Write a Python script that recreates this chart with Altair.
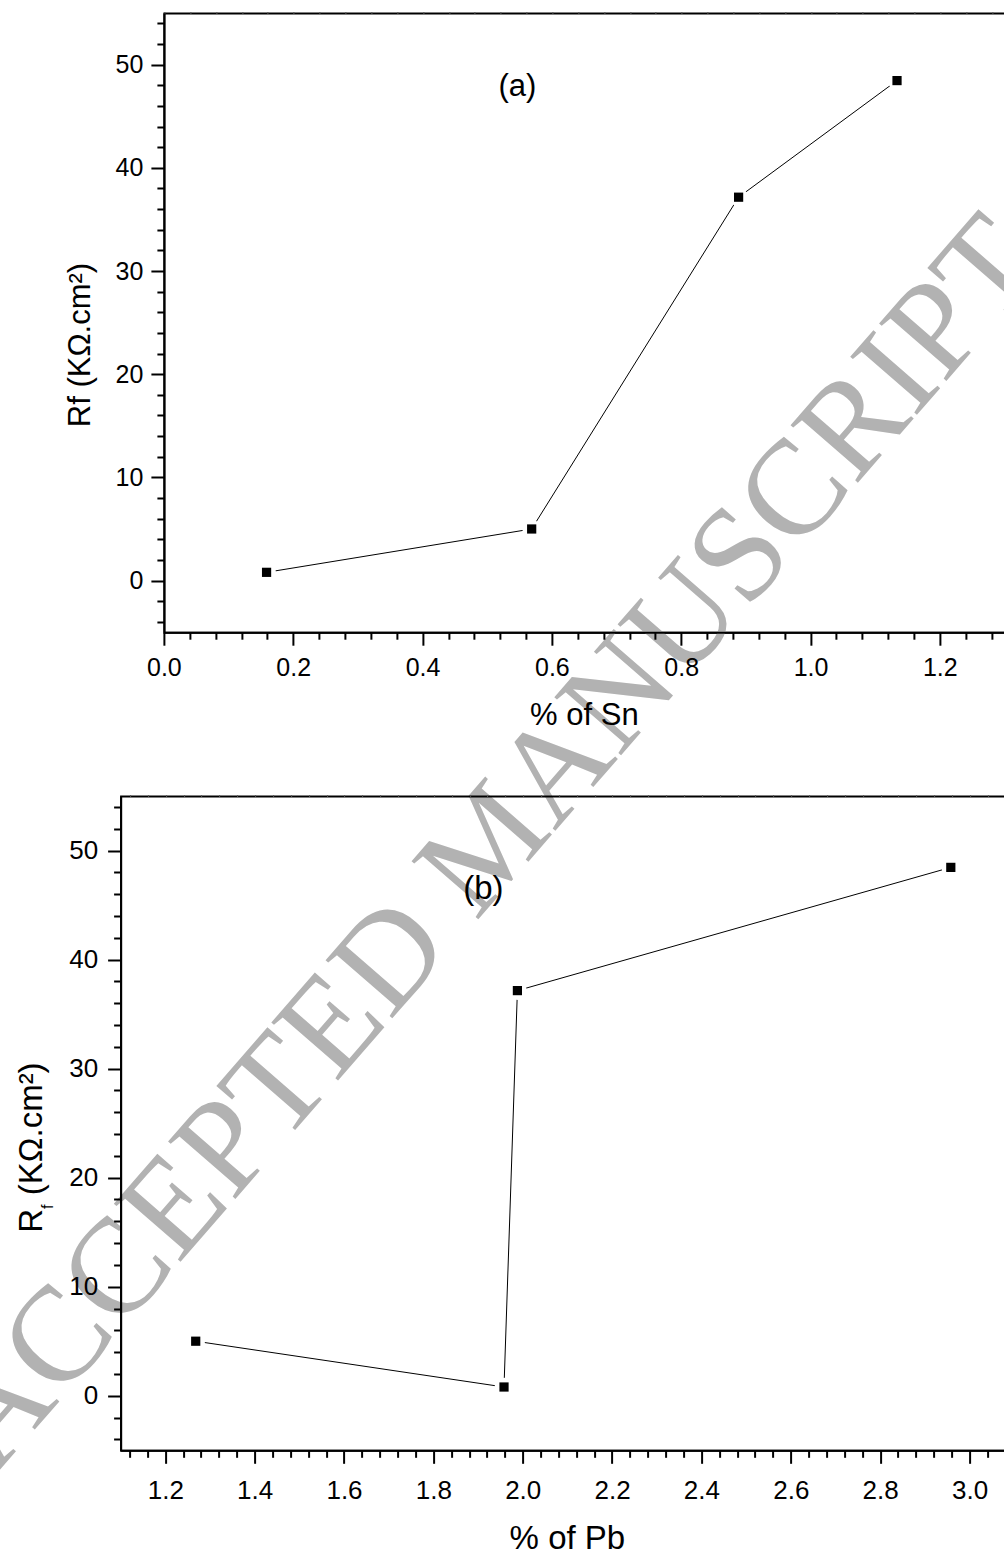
import json

import altair as alt
import pandas as pd

# Film resistance Rf (kOhm.cm2) of four alloy samples against their Sn and Pb content
sn_pct = [0.158, 0.568, 0.888, 1.133]
pb_pct = [1.957, 1.267, 1.987, 2.957]
rf_kohm_cm2 = [0.85, 5.05, 37.2, 48.5]

# Tick positions: labelled major ticks plus the minor ticks between them
sn_major = [round(0.2 * i, 1) for i in range(7)]
sn_minor = [round(0.04 * i, 2) for i in range(33) if i % 5]
pb_major = [round(1.2 + 0.2 * i, 1) for i in range(10)]
pb_minor = [round(1.2 + 0.04 * i, 2) for i in range(-2, 48) if i % 5]
rf_major = [0, 10, 20, 30, 40, 50]
rf_minor = [v for v in range(-4, 55, 2) if v % 10]

FONT = "Liberation Sans"
WATERMARK = "ACCEPTED MANUSCRIPT"

top_df = pd.DataFrame({"sn": sn_pct, "rf": rf_kohm_cm2})
bot_df = pd.DataFrame({"pb": pb_pct, "rf": rf_kohm_cm2})


def tick_axis(major, minor, fmt, label_size, label_pad, **kw):
    is_major = f"indexof({json.dumps(major)}, datum.value) >= 0"
    return alt.Axis(
        values=sorted(major + minor),
        format=fmt,
        labelExpr=f"{is_major} ? datum.label : ''",
        labelFontSize=label_size,
        labelPadding=label_pad,
        labelOverlap=False,
        labelFlush=False,
        tickSize={"condition": {"test": is_major, "value": 13}, "value": 7},
        tickWidth=2,
        domainWidth=2,
        translate=0,
        grid=False,
        zindex=1,
        **kw,
    )


def border_ticks(major, minor):
    return alt.Axis(
        orient="top",
        values=sorted(major + minor),
        labels=False,
        domain=False,
        tickSize=2,
        tickWidth=1,
        tickColor="#555555",
        title="",
        grid=False,
        zindex=1,
    )


def points(base, xfield, xscale, yscale, top_axis):
    halo = base.mark_point(shape="circle", filled=True, color="white", opacity=1, size=350).encode(
        x=alt.X(xfield, scale=xscale, axis=None),
        y=alt.Y("rf:Q", scale=yscale, axis=None),
    )
    squares = base.mark_point(shape="square", filled=True, color="black", opacity=1, size=85).encode(
        x=alt.X(xfield, scale=xscale, axis=top_axis),
        y=alt.Y("rf:Q", scale=yscale, axis=None),
    )
    return halo, squares


# ---------- panel (a): % of Sn ----------
W1, H1 = 840.6, 619.2
x1 = alt.Scale(domain=[0, 1.3], nice=False, zero=False)
y1 = alt.Scale(domain=[-5, 55], nice=False, zero=False)
base1 = alt.Chart(top_df)

watermark = alt.Chart(pd.DataFrame({"t": [WATERMARK]})).mark_text(
    font="Liberation Serif", fontSize=135, color="#b2b2b2", angle=311,
    align="center", baseline="middle",
).encode(x=alt.value(326), y=alt.value(829.5), text="t:N")

line1 = base1.mark_line(color="black", strokeWidth=1).encode(
    x=alt.X("sn:Q", scale=x1, axis=tick_axis(
        sn_major, sn_minor, ".1f", 25, 10,
        title="% of Sn", titleFontSize=31, titleFontWeight="normal",
        titleX=420, titleY=92.3, titleAlign="center", titleBaseline="alphabetic")),
    y=alt.Y("rf:Q", scale=y1, axis=tick_axis(
        rf_major, rf_minor, "d", 25, 8,
        title="Rf (KΩ.cm²)", titleFontSize=31, titleFontWeight="normal", titleAngle=270,
        titleX=-74, titleY=331.5, titleAlign="center", titleBaseline="alphabetic")),
)
halo1, sq1 = points(base1, "sn:Q", x1, y1, border_ticks(sn_major, sn_minor))
label_a = alt.Chart(pd.DataFrame({"t": ["(a)"]})).mark_text(
    font=FONT, fontSize=31, color="black", align="center", baseline="middle"
).encode(x=alt.value(353), y=alt.value(73.5), text="t:N")

panel_a = alt.layer(watermark, line1, halo1, sq1, label_a).resolve_axis(
    x="independent", y="independent"
).properties(width=W1, height=H1)

# ---------- panel (b): % of Pb ----------
W2, H2 = 927.2, 654.3
x2 = alt.Scale(domain=[1.1, 3.1752], nice=False, zero=False)
y2 = alt.Scale(domain=[-5, 55], nice=False, zero=False)
base2 = alt.Chart(bot_df)

line2 = base2.mark_line(color="black", strokeWidth=1).encode(
    x=alt.X("pb:Q", scale=x2, axis=tick_axis(
        pb_major, pb_minor, ".1f", 26, 14,
        title="% of Pb", titleFontSize=33, titleFontWeight="normal",
        titleX=446.3, titleY=98, titleAlign="center", titleBaseline="alphabetic")),
    y=alt.Y("rf:Q", scale=y2, axis=tick_axis(rf_major, rf_minor, "d", 26, 10, title="")),
)
halo2, sq2 = points(base2, "pb:Q", x2, y2, border_ticks(pb_major, pb_minor))
label_b = alt.Chart(pd.DataFrame({"t": ["(b)"]})).mark_text(
    font=FONT, fontSize=33, color="black", align="center", baseline="middle"
).encode(x=alt.value(362.3), y=alt.value(92.3), text="t:N")


# y title with a subscript f: R, small f, then the unit
def ytitle(text, size, x, y):
    return alt.Chart(pd.DataFrame({"t": [text]})).mark_text(
        font=FONT, fontSize=size, color="black", angle=270, align="left", baseline="alphabetic"
    ).encode(x=alt.value(x), y=alt.value(y), text="t:N")


yt_r = ytitle("R", 33, -78.7, 436.3)
yt_f = ytitle("f", 16, -67.7, 412.5)
yt_unit = ytitle("(KΩ.cm²)", 33, -78.7, 398.7)

panel_b = alt.layer(line2, halo2, sq2, label_b, yt_r, yt_f, yt_unit).resolve_axis(
    x="independent", y="independent"
).properties(width=W2, height=H2)

chart = alt.vconcat(panel_a, panel_b, spacing=163, bounds="flush", center=True).properties(
    autosize=alt.AutoSizeParams(type="none"),
    padding={"left": 120.7, "top": 13.5, "right": 883.3, "bottom": 1537.5},
    background="white",
).configure_view(
    stroke="black", strokeWidth=2
).configure_axis(
    labelFont=FONT, titleFont=FONT, labelColor="black", titleColor="black",
    tickColor="black", domainColor="black",
)

chart.save("out.html", embed_options={"renderer": "svg", "actions": False})
